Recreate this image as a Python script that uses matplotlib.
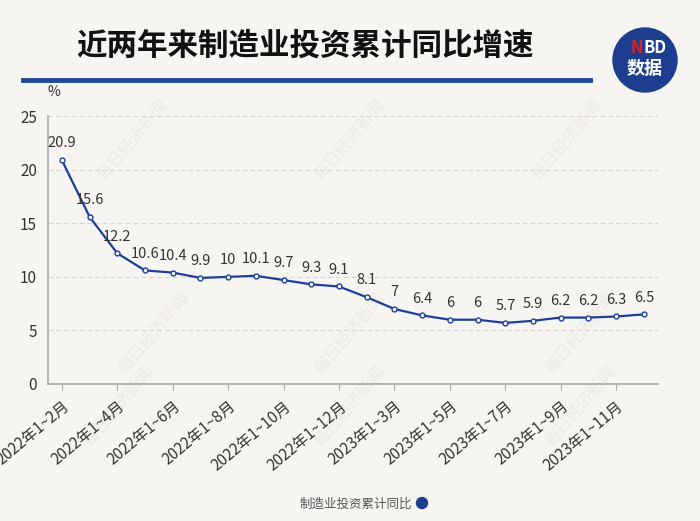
import matplotlib
matplotlib.use("Agg")
import matplotlib.pyplot as plt

plt.rcParams['font.family'] = ['Noto Sans CJK SC', 'DejaVu Sans']

BG = "#f7f5f1"
BLUE = "#1c3f9a"

months = ["2022年1~2月", "2022年1~3月", "2022年1~4月", "2022年1~5月", "2022年1~6月",
          "2022年1~7月", "2022年1~8月", "2022年1~9月", "2022年1~10月", "2022年1~11月",
          "2022年1~12月", "2023年1~2月", "2023年1~3月", "2023年1~4月", "2023年1~5月",
          "2023年1~6月", "2023年1~7月", "2023年1~8月", "2023年1~9月", "2023年1~10月",
          "2023年1~11月", "2023年1~12月"]
growth = [20.9, 15.6, 12.2, 10.6, 10.4, 9.9, 10, 10.1, 9.7, 9.3, 9.1,
          8.1, 7, 6.4, 6, 6, 5.7, 5.9, 6.2, 6.2, 6.3, 6.5]
label_idx = [0, 2, 4, 6, 8, 10, 12, 14, 16, 18, 20]
y_ticks = [0, 5, 10, 15, 20, 25]

fig = plt.figure(figsize=(7, 5.21), dpi=100, facecolor=BG)

# faint watermark behind everything
for wx, wy in [(0.19, 0.73), (0.50, 0.73), (0.81, 0.73), (0.22, 0.36),
               (0.50, 0.36), (0.83, 0.36), (0.17, 0.22), (0.50, 0.22), (0.83, 0.22)]:
    fig.text(wx, wy, "每日经济新闻", rotation=50, fontsize=12, color="#ece8e2",
             ha="center", va="center", zorder=-5)

ax = fig.add_axes([0.0686, 0.263, 0.871, 0.514])
ax.patch.set_alpha(0)

x = list(range(len(growth)))
ax.plot(x, growth, color=BLUE, lw=1.6, marker="o", ms=3.5,
        mfc="white", mec=BLUE, mew=1.0, zorder=3)
for xi, v in zip(x, growth):
    ax.annotate(f"{v:g}", (xi, v), xytext=(0, 7), textcoords="offset points",
                ha="center", va="bottom", fontsize=10.5, color="#333333")

ax.set_xlim(-0.5, len(growth) - 0.5)
ax.set_ylim(0, 25)
ax.set_yticks(y_ticks)
ax.set_yticklabels([str(t) for t in y_ticks], fontsize=11, color="#333333")
ax.set_xticks(label_idx)
ax.set_xticklabels([months[i] for i in label_idx], rotation=40, ha="right",
                   rotation_mode="anchor", fontsize=11, color="#333333")
ax.tick_params(axis="y", length=0, pad=8)
ax.tick_params(axis="x", length=4, color="#aaaaaa", pad=6)
ax.grid(axis="y", ls=(0, (4, 3)), color="#d6d3cf", lw=0.8)
for s in ["top", "right"]:
    ax.spines[s].set_visible(False)
for s in ["left", "bottom"]:
    ax.spines[s].set_color("#aaaaaa")
    ax.spines[s].set_linewidth(1.2)

fig.text(0.068, 0.815, "%", fontsize=10, color="#333333")

# title
fig.text(0.436, 0.913, "近两年来制造业投资累计同比增速", fontsize=22, fontweight="heavy",
         color="#111111", ha="center", va="center")
fig.add_artist(plt.Line2D([0.033, 0.843], [0.846, 0.846], color="#1f4b96", lw=3.5))

# logo
fig.add_artist(plt.Circle((645, 461), 32, transform=None, color="#1d3d8f"))
fig.text(0.909, 0.908, "N", fontsize=12, fontweight="bold", color="#e02020", ha="center", va="center")
fig.text(0.936, 0.908, "BD", fontsize=12, fontweight="bold", color="white", ha="center", va="center")
fig.text(0.921, 0.869, "数据", fontsize=13, fontweight="bold", color="white", ha="center", va="center")

# legend
fig.text(0.588, 0.032, "制造业投资累计同比", fontsize=9, color="#555555", ha="right", va="center")
fig.add_artist(plt.Circle((422, 18), 5.5, transform=None, color="#1d3d8f"))

fig.savefig("out.png", dpi=100, facecolor=BG)
